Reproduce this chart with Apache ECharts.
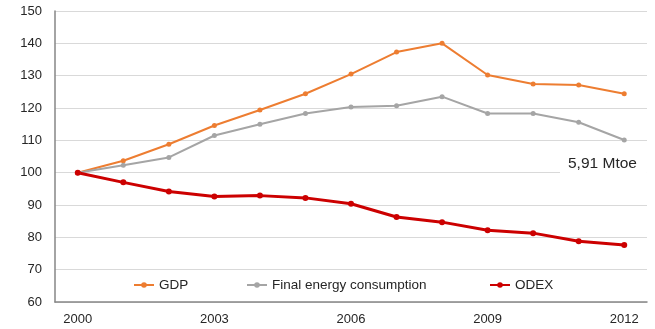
<!DOCTYPE html>
<html>
<head>
<meta charset="utf-8">
<script src="https://cdn.jsdelivr.net/npm/echarts@6/dist/echarts.min.js"></script>
<style>
  html, body { margin: 0; padding: 0; background: #fff; }
  #chart { width: 655px; height: 329px; }
</style>
</head>
<body>
<div id="chart"></div>
<script>
// Index values, 2000 = 100
const years = ['2000','2001','2002','2003','2004','2005','2006','2007','2008','2009','2010','2011','2012'];
const gdp = [100, 103.7, 108.8, 114.6, 119.4, 124.4, 130.5, 137.3, 140.0, 130.2, 127.4, 127.1, 124.4];
const finalEnergy = [100, 102.3, 104.7, 111.5, 115.0, 118.3, 120.3, 120.7, 123.5, 118.3, 118.3, 115.6, 110.1];
const odex = [100, 97.0, 94.2, 92.6, 92.9, 92.2, 90.4, 86.3, 84.7, 82.2, 81.3, 78.8, 77.6];
const yTicks = { min: 60, max: 150, step: 10 };
const seriesNames = ['GDP', 'Final energy consumption', 'ODEX'];
const note = '5,91 Mtoe';

const font = 'Liberation Sans';
const chart = echarts.init(document.getElementById('chart'), null, { renderer: 'canvas' });

function lineSeries(name, data, color, width, size) {
  return {
    name, type: 'line', data,
    symbol: 'circle', symbolSize: size,
    lineStyle: { color, width },
    itemStyle: { color },
    z: 3
  };
}

// one legend block per series so each entry sits at its own spot
const legendLefts = [133, 246, 489];
const legends = seriesNames.map((name, i) => ({
  data: [name],
  left: legendLefts[i], top: 278,
  padding: 0,
  itemWidth: 20, itemHeight: 7,
  textStyle: { fontFamily: font, fontSize: 13.5, color: '#262626' }
}));

chart.setOption({
  animation: false,
  textStyle: { fontFamily: font },
  grid: { left: 55, right: 8, top: 11, bottom: 27 },
  legend: legends,
  xAxis: {
    type: 'category', data: years, boundaryGap: true,
    axisLine: { lineStyle: { color: '#868686', width: 1.5 } },
    axisTick: { show: false },
    axisLabel: { interval: 2, fontSize: 13, color: '#262626', margin: 11 }
  },
  yAxis: {
    type: 'value', min: yTicks.min, max: yTicks.max, interval: yTicks.step,
    axisLine: { show: true, lineStyle: { color: '#868686', width: 1.5 } },
    axisTick: { show: false },
    axisLabel: { fontSize: 13, color: '#262626', margin: 13 },
    splitLine: { lineStyle: { color: '#d9d9d9', width: 1 } }
  },
  graphic: [{
    type: 'text', left: 560, top: 152, z: 10,
    style: {
      text: note, fontFamily: font, fontSize: 15.5, fill: '#262626',
      backgroundColor: '#fff', padding: [4, 10, 6, 8]
    }
  }],
  series: [
    lineSeries(seriesNames[0], gdp, '#ed7d31', 2, 5),
    lineSeries(seriesNames[1], finalEnergy, '#a5a5a5', 2, 5),
    lineSeries(seriesNames[2], odex, '#cc0000', 3, 6)
  ]
});
</script>
</body>
</html>
